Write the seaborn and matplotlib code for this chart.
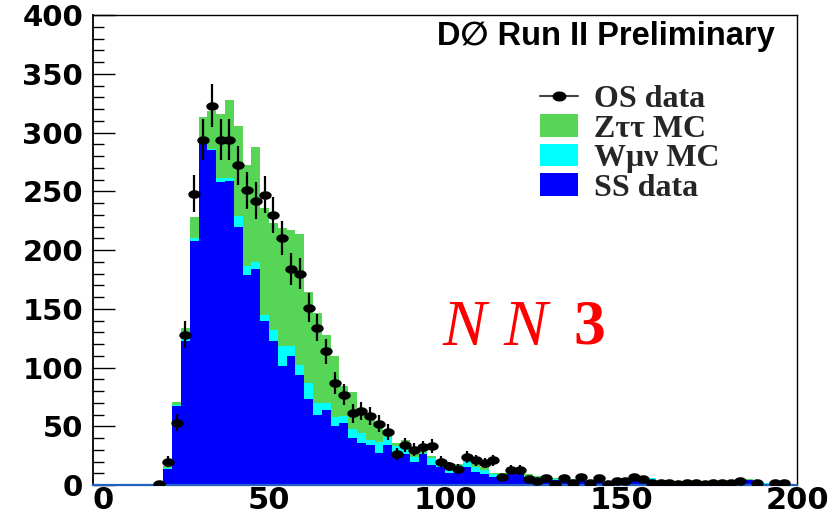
import numpy as np
import pandas as pd
import matplotlib
matplotlib.use("Agg")
import matplotlib.pyplot as plt
import seaborn as sns
from matplotlib.path import Path
from matplotlib.lines import Line2D
from matplotlib.patches import Patch
from matplotlib.font_manager import FontProperties

# ---------------- data (80 bins of width 2.5 from 0 to 200) ----------------
bin_width = 2.5
n_bins = 80

os_data = [0, 0, 0, 0, 0, 0, 0, 1, 20, 53, 128, 248, 294, 323, 294, 294,
           272, 251, 242, 247, 230, 210, 184, 180, 151, 134, 114, 87, 77, 61,
           63, 59, 52, 45, 26, 34, 30, 32, 33, 20, 16, 14, 24, 21, 19, 21,
           7, 13, 13, 5, 3, 6, 1, 6, 2, 7, 2, 6, 1, 3, 3, 7, 5, 2, 2, 2,
           1, 2, 2, 1, 2, 2, 2, 3, 0, 2, 0, 2, 2, 0]

ss_data = [0, 0, 0, 0, 0, 0, 0, 1, 14, 67, 123, 208, 295, 285, 258, 259,
           220, 179, 184, 140, 123, 101, 110, 94, 73, 60, 64, 50, 53, 40,
           36, 34, 27, 34, 26, 26, 20, 26, 17, 15, 10, 15, 15, 11, 9, 7,
           8, 13, 13, 7, 6, 6, 4, 4, 3, 3, 3, 3, 2, 3, 2, 4, 4, 4, 2, 2,
           2, 2, 2, 2, 1, 2, 2, 4, 4, 2, 1, 1, 1, 0]

wmunu_mc = [0, 0, 0, 0, 0, 0, 0, 0, 0.5, 1, 2, 2, 1, 1, 3, 2,
            9, 7, 6, 5, 9, 17, 8, 8, 14, 10, 6, 8, 6, 8,
            8, 4, 10, 7, 7, 5, 4, 1, 6, 6, 4, 2, 6, 4, 4, 2,
            1, 1, 1, 1, 1, 1, 1, 1, 1, 1, 1, 0.5, 1, 0.5, 1, 1, 1, 2, 0.5, 0.5,
            0.5, 0.5, 0.5, 0.5, 0.5, 0.5, 0.5, 0.5, 0.5, 0.5, 0.5, 0.5, 0.5, 0]

ztautau_mc = [0, 0, 0, 0, 0, 0, 0, 0.5, 1.5, 3, 9, 18, 17, 32, 55, 67,
              77, 86, 98, 91, 91, 101, 99, 112, 77, 76, 58, 52, 25, 31,
              20, 19, 13, 2, 3, 7, 4, 2, 2, 0, 3, 1, 2, 5, 2, 1,
              1, 1, 0, 1, 1, 0, 1, 0, 1, 0, 0, 0.5, 0, 0.5, 0, 0, 0, 0, 0.3, 0.3,
              0.3, 0.3, 0.3, 0.3, 0.3, 0.3, 0.3, 0.3, 0.3, 0.3, 0.3, 0.3, 0.3, 0]

legend_labels = ["OS data", "Z\u03c4\u03c4 MC", "W\u03bc\u03bd MC", "SS data"]
x_ticks = [0, 50, 100, 150, 200]
y_ticks = [0, 50, 100, 150, 200, 250, 300, 350, 400]

# ---------------- derived ----------------
edges = np.arange(n_bins + 1) * bin_width
centers = edges[:-1] + bin_width / 2
ss = np.array(ss_data, float)
w = np.array(wmunu_mc, float)
z = np.array(ztautau_mc, float)
osd = np.array(os_data, float)

df = pd.DataFrame({
    "x": centers,
    "total": ss + w + z,
    "ss_w": ss + w,
    "ss": ss,
})

GREEN = "#56d556"
CYAN = "#00ffff"
BLUE = "#0000ff"

sns.set_style("white")
plt.rcParams["font.family"] = ["DejaVu Sans"]

fig = plt.figure(figsize=(8.39, 5.2), dpi=100)
ax = fig.add_axes([0.1108, 0.0673, 0.8392, 0.9037])

for col, c in [("total", GREEN), ("ss_w", CYAN), ("ss", BLUE)]:
    sns.histplot(data=df, x="x", weights=col, binwidth=bin_width,
                 binrange=(0, 200), element="step",
                 fill=True, color=c, alpha=1, linewidth=0, ax=ax)

# ellipse marker
th = np.linspace(0, 2 * np.pi, 41)
ell = Path(np.column_stack([1.45 * np.cos(th), np.sin(th)]), closed=True)

mask = osd > 0
ax.errorbar(centers[mask], osd[mask], yerr=np.sqrt(osd[mask]), fmt="none",
            ecolor="black", elinewidth=1.6, capsize=0, zorder=5)
sns.scatterplot(x=centers[mask], y=osd[mask], marker=ell, s=80, color="black",
                edgecolor="black", linewidth=0, ax=ax, zorder=6)

ax.set_xlim(0, 200)
ax.set_ylim(0, 400)
ax.set_xlabel("")
ax.set_ylabel("")
ax.set_xticks(x_ticks)
ax.set_yticks(y_ticks)
ax.set_xticklabels([str(v) for v in x_ticks])
ax.set_yticklabels([str(v) for v in y_ticks])
ax.yaxis.set_minor_locator(matplotlib.ticker.MultipleLocator(10))
ax.tick_params(axis="y", which="major", direction="in", length=16, width=1,
               pad=7, labelsize=21, left=True, right=False, colors="black")
ax.tick_params(axis="y", which="minor", direction="in", length=8, width=1,
               left=True, right=False, colors="black")
ax.tick_params(axis="x", which="both", length=0, pad=1, labelsize=22,
               labelcolor="black")
for lab in ax.get_xticklabels() + ax.get_yticklabels():
    lab.set_fontweight("bold")
    lab.set_family(["DejaVu Sans"])
    lab.set_color("black")
# ROOT draws the x-axis "0" just right of the y-axis "0"
ax.get_xticklabels()[0].set_horizontalalignment("left")

for s in ["top", "right", "left"]:
    ax.spines[s].set_visible(True)
    ax.spines[s].set_color("black")
    ax.spines[s].set_linewidth(1.0)
ax.spines["left"].set_linewidth(1.3)
ax.spines["bottom"].set_color("#2060c0")
ax.spines["bottom"].set_linewidth(1.6)

# title
ax.text(0.969, 0.955, "D\u2205 Run II Preliminary", transform=ax.transAxes,
        ha="right", va="center", fontsize=23.5, fontweight="bold",
        color="black", family=["Liberation Sans", "DejaVu Sans"])

# NN 3
ax.text(0.497, 0.332, "N", transform=ax.transAxes, ha="left", va="center",
        fontsize=47, style="italic", color="red", family=["Liberation Serif"])
ax.text(0.583, 0.332, "N", transform=ax.transAxes, ha="left", va="center",
        fontsize=47, style="italic", color="red", family=["Liberation Serif"])
ax.text(0.683, 0.332, "3", transform=ax.transAxes, ha="left", va="center",
        fontsize=46, fontweight="bold", color="red", family=["Liberation Serif"])

# legend
handles = [
    Line2D([], [], color="#444444", lw=1.5, marker=ell, markersize=9,
           markerfacecolor="black", markeredgecolor="black"),
    Patch(facecolor=GREEN, edgecolor="none"),
    Patch(facecolor=CYAN, edgecolor="none"),
    Patch(facecolor=BLUE, edgecolor="none"),
]
leg = ax.legend(handles, legend_labels, loc="upper left",
                bbox_to_anchor=(0.635, 0.851), frameon=False,
                prop=FontProperties(family="Liberation Serif", weight="bold", size=23),
                handlelength=1.2, handleheight=0.7, handletextpad=0.5,
                labelspacing=0.0, borderpad=0, borderaxespad=0)

fig.savefig("out.png", dpi=100)
